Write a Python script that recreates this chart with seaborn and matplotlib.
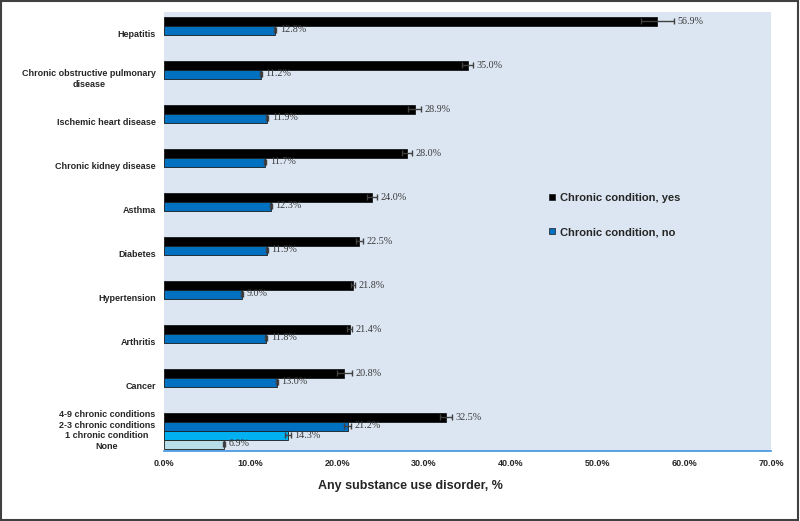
import matplotlib
matplotlib.use("Agg")
import matplotlib.pyplot as plt
import numpy as np
import pandas as pd
import seaborn as sns
from matplotlib.lines import Line2D
from matplotlib.patches import Rectangle
from matplotlib.transforms import blended_transform_factory

# values (percent with any substance use disorder)
conditions = [
    "Hepatitis",
    "Chronic obstructive pulmonary\ndisease",
    "Ischemic heart disease",
    "Chronic kidney disease",
    "Asthma",
    "Diabetes",
    "Hypertension",
    "Arthritis",
    "Cancer",
]
yes_pct = [56.9, 35.0, 28.9, 28.0, 24.0, 22.5, 21.8, 21.4, 20.8]
yes_err = [1.9, 0.65, 0.75, 0.6, 0.6, 0.4, 0.2, 0.3, 0.9]
no_pct = [12.8, 11.2, 11.9, 11.7, 12.3, 11.9, 9.0, 11.8, 13.0]
no_err = [0.15, 0.1, 0.12, 0.12, 0.12, 0.1, 0.1, 0.1, 0.12]

count_groups = ["4-9 chronic conditions", "2-3 chronic conditions", "1 chronic condition", "None"]
count_pct = [32.5, 21.2, 14.3, 6.9]
count_err = [0.7, 0.4, 0.3, 0.12]
count_shade = ["yes", "no", "one", "none"]

x_ticks = [0, 10, 20, 30, 40, 50, 60, 70]
legend_labels = ["Chronic condition, yes", "Chronic condition, no"]

palette = {"yes": "#000000", "no": "#0070C0", "one": "#00B0F0", "none": "#B7DEE8"}

# layout (vertical slots, one bar = one slot of 9 units)
slot = 9
group_step = 44
yes_pos = [slot + group_step * i for i in range(len(conditions))]
no_pos = [p + slot for p in yes_pos]
count_pos = [405 + slot * i for i in range(len(count_groups))]

df = pd.DataFrame({
    "pos": yes_pos + no_pos + count_pos,
    "pct": yes_pct + no_pct + count_pct,
    "err": yes_err + no_err + count_err,
    "shade": ["yes"] * len(yes_pct) + ["no"] * len(no_pct) + count_shade,
})

sns.set_theme(style="white")
plt.rcParams["font.family"] = ["Liberation Sans", "DejaVu Sans"]

fig = plt.figure(figsize=(8, 5.21), dpi=100)
ax = fig.add_axes([164 / 800, 1 - 451 / 521, 607 / 800, 439 / 521])
ax.set_facecolor("#DCE6F2")

sns.barplot(
    data=df, x="pct", y="pos", hue="shade", palette=palette, orient="h",
    native_scale=True, width=1.0, errorbar=None, dodge=False, legend=False,
    saturation=1, edgecolor="#1a1a1a", linewidth=0.6, ax=ax,
)
ax.errorbar(df["pct"], df["pos"], xerr=df["err"], fmt="none",
            ecolor="#404040", elinewidth=1.0, capsize=2.2, capthick=1.0)

for p, v, e in zip(df["pos"], df["pct"], df["err"]):
    ax.text(v + e + 0.4, p, f"{v:.1f}%", va="center", ha="left",
            fontsize=7.3, color="#3a3a3a", family=["Liberation Serif", "DejaVu Serif"])

ax.set_xlim(0, 70)
ax.set_ylim(439, 0)
ax.set_xticks(x_ticks)
ax.set_xticklabels([f"{t:.1f}%" for t in x_ticks], fontsize=6.5, fontweight="bold")
ax.set_yticks([p + 12.5 for p in yes_pos])
ax.set_yticklabels(conditions, fontsize=6.5, fontweight="bold", multialignment="center")
ax.tick_params(axis="y", length=0, pad=6)
ax.tick_params(axis="x", direction="in", length=3, width=1, color="#3D94E0", pad=6)
ax.set_xlabel("")
ax.set_ylabel("")
for side in ["top", "right", "left"]:
    ax.spines[side].set_visible(False)
ax.spines["bottom"].set_color("#3D94E0")
ax.spines["bottom"].set_linewidth(1.2)

# the count labels sit in their own text block, slightly more spread than the bars
trans = blended_transform_factory(ax.transAxes, ax.transData)
mid = np.mean(count_pos)
for i, name in enumerate(count_groups):
    ax.text(-0.094, mid + (i - 1.5) * 10.5, name, ha="center", va="center", fontsize=6.5,
            fontweight="bold", transform=trans)

fig.text(410 / 800, 1 - 486 / 521, "Any substance use disorder, %", ha="center",
         va="center", fontsize=9, fontweight="bold")

handles = [Line2D([], [], marker="s", linestyle="none", markersize=4.5,
                  markerfacecolor=palette[k], markeredgecolor="#1a1a1a", markeredgewidth=0.5)
           for k in ["yes", "no"]]
fig.legend(handles, legend_labels, loc="center left", bbox_to_anchor=(549 / 800, 1 - 215 / 521),
           frameon=False, prop={"size": 8, "weight": "bold"}, handlelength=0.6,
           handletextpad=0.35, labelspacing=2.2, borderpad=0, borderaxespad=0)

fig.patches.append(Rectangle((0.001, 0.002), 0.997, 0.996, transform=fig.transFigure,
                             fill=False, edgecolor="#404040", linewidth=1.5))

fig.savefig("out.png", dpi=100)
